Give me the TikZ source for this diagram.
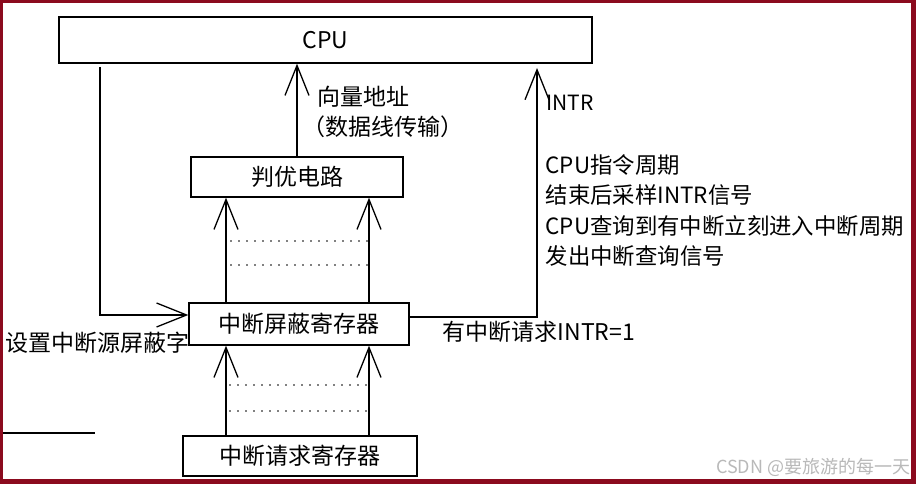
\documentclass[tikz,border=0pt]{standalone}
\usepackage{fontspec}
\newfontfamily\cjk{Noto Sans CJK SC}
\usetikzlibrary{arrows.meta}
\definecolor{framecol}{RGB}{139,10,30}
\definecolor{wm}{RGB}{185,185,185}
\begin{document}
\begin{tikzpicture}[x=1pt,y=-1pt, line width=1.3pt,
  every node/.style={font=\cjk\fontsize{23}{27}\selectfont, inner sep=0pt},
  box/.style={draw, rectangle, line width=1.4pt},
  arr/.style={-{Straight Barb[length=30pt,width=24pt]}},
  dotline/.style={line width=1.6pt, dash pattern=on 0pt off 8pt, line cap=round}]
\fill[framecol] (0,0) rectangle (916,484);
\fill[white] (3,3) rectangle (911,479);
\useasboundingbox (0,0) rectangle (916,484);

% boxes
\node[box, minimum width=533pt, minimum height=46pt] (cpu) at (325.5,40) {CPU};
\node[box, minimum width=212pt, minimum height=40pt] (pri) at (297,177) {判优电路};
\node[box, minimum width=220pt, minimum height=42pt] (mask) at (299,324) {中断屏蔽寄存器};
\node[box, minimum width=234pt, minimum height=40pt] (req) at (300,456) {中断请求寄存器};

% helper coordinates
\coordinate (cl) at (226,0);
\coordinate (cr) at (369,0);
\coordinate (ltop) at (100,67);
\coordinate (rtop) at (537,68);

% connectors
\draw[arr] (pri.north) -- (pri.north |- cpu.south);
\draw[arr] (ltop) |- ([yshift=9pt]mask.west);
\draw[arr] ([yshift=7pt]mask.east) -| (rtop);
\draw[arr] (mask.north -| cl) -- (pri.south -| cl);
\draw[arr] (mask.north -| cr) -- (pri.south -| cr);
\draw[arr] (req.north -| cl) -- (mask.south -| cl);
\draw[arr] (req.north -| cr) -- (mask.south -| cr);

% dotted lines
\draw[dotline] (231,241) -- (367,241);
\draw[dotline] (231,265) -- (367,265);
\draw[dotline] (230,385) -- (366,385);
\draw[dotline] (230,411) -- (366,411);

% stray line
\draw (3,433) -- (95,433);

% labels
\node[anchor=west] (va) at (317,97) {向量地址};
\node[anchor=west] (vb) at (302,127) {（数据线传输）};
\node[anchor=west, font=\cjk\fontsize{21}{25}\selectfont] (intr) at (546,103) {INTR};
\node[anchor=west, align=left, font=\cjk\fontsize{22.4}{30.5}\selectfont] (note) at (545,210.5)
  {CPU指令周期\\结束后采样INTR信号\\CPU查询到有中断立刻进入中断周期\\发出中断查询信号};
\node[anchor=west] (req1) at (442,332) {有中断请求INTR=1};
\node[anchor=west] (setm) at (5,343) {设置中断源屏蔽字};
\node[anchor=east, text=wm, font=\cjk\fontsize{18}{20}\selectfont] (wmk) at (911,467) {CSDN @要旅游的每一天};
\end{tikzpicture}
\end{document}
